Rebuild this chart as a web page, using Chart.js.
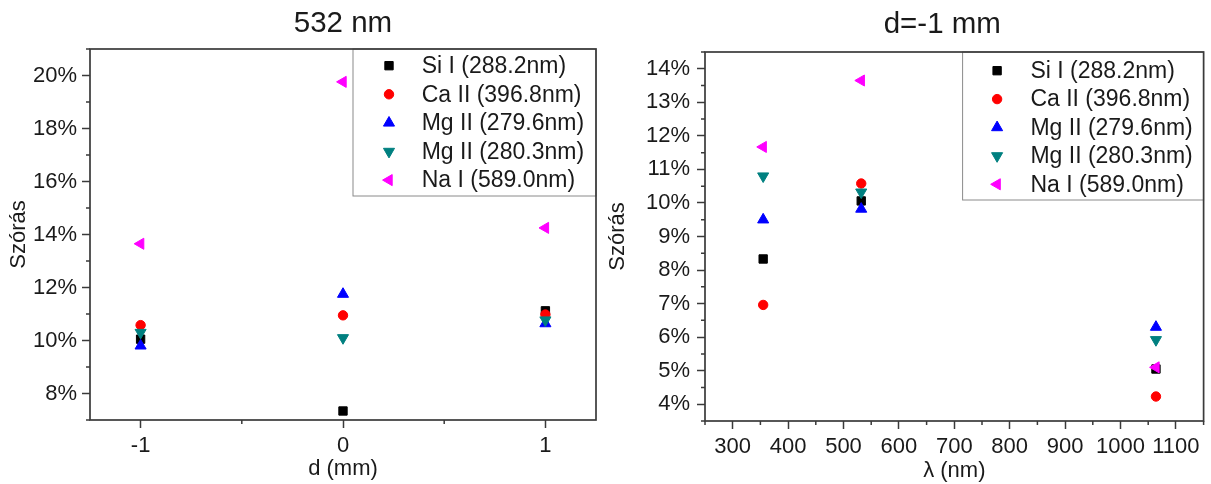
<!DOCTYPE html>
<html>
<head>
<meta charset="utf-8">
<title>Szórás</title>
<script src="https://cdn.jsdelivr.net/npm/chart.js@4/dist/chart.umd.min.js"></script>
<style>
    html, body { margin: 0; padding: 0; background: #fff; }
    body { width: 1211px; height: 484px; position: relative; overflow: hidden; }
    .panel { position: absolute; top: 0; height: 484px; }
    #leftPanel { left: 0; width: 605px; }
    #rightPanel { left: 605px; width: 606px; }
</style>
</head>
<body>
<div class="panel" id="leftPanel"><canvas id="distanceChart"></canvas></div>
<div class="panel" id="rightPanel"><canvas id="wavelengthChart"></canvas></div>
<script>
// Data: 532 nm, relative std. dev. (%) vs. d (mm)
const dValues = [-1, 0, 1];
const dTicks  = [-1, -0.5, 0, 0.5, 1];
const siI_d   = [10.05, 7.34, 11.12];
const caII_d  = [10.58, 10.95, 10.98];
const mg279_d = [9.80, 11.75, 10.64];
const mg280_d = [10.30, 10.10, 10.77];
const naI_d   = [13.65, 19.76, 14.25];

// Data: d = -1 mm, relative std. dev. (%) vs. wavelength (nm)
const lambdaValues = [355, 532, 1064];
const siI_l   = [8.33, 10.06, 5.05];
const caII_l  = [6.96, 10.58, 4.23];
const mg279_l = [9.50, 9.82, 6.30];
const mg280_l = [10.80, 10.32, 5.92];
const naI_l   = [11.67, 13.65, 5.10];

const seriesLabels = ['Si I (288.2nm)', 'Ca II (396.8nm)', 'Mg II (279.6nm)', 'Mg II (280.3nm)', 'Na I (589.0nm)'];

// Styles
const FONT = '"Liberation Sans", Arial, sans-serif';
const TEXT_COLOR = '#1a1a1a';
const AXIS_COLOR = '#3a3a3a';
const markers = [
    { color: '#000000', style: 'rect', radius: 5.9, rotation: 0 },
    { color: '#ff0000', style: 'circle', radius: 4.7, rotation: 0 },
    { color: '#0000ff', style: 'triangle', radius: 6.4, rotation: 0 },
    { color: '#008080', style: 'triangle', radius: 6.4, rotation: 180 },
    { color: '#ff00ff', style: 'triangle', radius: 6.4, rotation: -90 }
];

// Build the scatter datasets from x values and the y series
function buildDatasets(xs, seriesList) {
    return seriesList.map((ys, i) => ({
        label: seriesLabels[i],
        data: xs.map((x, j) => ({ x: x, y: ys[j] })),
        showLine: false,
        pointStyle: markers[i].style,
        pointRadius: markers[i].radius,
        pointRotation: markers[i].rotation,
        pointBackgroundColor: markers[i].color,
        pointBorderColor: markers[i].color,
        pointBorderWidth: 1,
        backgroundColor: markers[i].color,
        borderColor: markers[i].color,
        order: seriesList.length - i // later series on top
    }));
}

// Title, frame, minor ticks and the inset legend
const framePlugin = {
    id: 'frameAndLegend',
    afterDraw(chart, args, opts) {
        const { ctx, chartArea } = chart;
        ctx.save();

        // title, centred (roughly) over the plot
        ctx.font = '29.5px ' + FONT;
        ctx.fillStyle = TEXT_COLOR;
        ctx.textAlign = 'center';
        ctx.textBaseline = 'middle';
        ctx.fillText(opts.title, (chartArea.left + chartArea.right) / 2 + opts.titleShift, opts.titleY);

        // legend box
        const boxLeft = chartArea.right - opts.width;
        const boxTop = chartArea.top;
        ctx.fillStyle = '#fff';
        ctx.fillRect(boxLeft, boxTop, opts.width, opts.height);
        ctx.strokeStyle = '#8a8a8a';
        ctx.lineWidth = 1;
        ctx.strokeRect(boxLeft, boxTop, opts.width, opts.height);
        ctx.font = '23px ' + FONT;
        ctx.textAlign = 'left';
        chart.data.datasets.forEach((ds, i) => {
            const y = boxTop + opts.firstRow + i * opts.rowGap;
            ctx.fillStyle = ds.pointBackgroundColor;
            ctx.strokeStyle = ds.pointBorderColor;
            ctx.lineWidth = 1;
            Chart.helpers.drawPoint(ctx, {
                pointStyle: ds.pointStyle,
                radius: ds.pointRadius,
                rotation: ds.pointRotation,
                borderWidth: 1
            }, boxLeft + opts.markerX, y);
            ctx.fillStyle = TEXT_COLOR;
            ctx.fillText(ds.label, boxLeft + opts.textX, y + 1);
        });

        // minor ticks (the unlabelled ones)
        ctx.strokeStyle = AXIS_COLOR;
        ctx.lineWidth = 1.5;
        const xs = chart.scales.x, ys = chart.scales.y;
        ctx.beginPath();
        xs.ticks.forEach(t => {
            if (t.label !== '') return;
            const px = xs.getPixelForValue(t.value);
            ctx.moveTo(px, chartArea.bottom);
            ctx.lineTo(px, chartArea.bottom + 4);
        });
        ys.ticks.forEach(t => {
            if (t.label !== '') return;
            const py = ys.getPixelForValue(t.value);
            ctx.moveTo(chartArea.left, py);
            ctx.lineTo(chartArea.left - 4, py);
        });
        ctx.stroke();

        // plot frame
        ctx.lineWidth = 1.7;
        ctx.strokeRect(chartArea.left, chartArea.top, chartArea.right - chartArea.left, chartArea.bottom - chartArea.top);
        ctx.restore();
    }
};

function tickColor(c) {
    return c.tick && c.tick.label !== '' ? AXIS_COLOR : 'rgba(0,0,0,0)';
}

function createChart(canvasId, cfg) {
    const ctx = document.getElementById(canvasId).getContext('2d');
    return new Chart(ctx, {
        type: 'scatter',
        data: { datasets: cfg.datasets },
        plugins: [framePlugin],
        options: {
            responsive: true,
            maintainAspectRatio: false,
            animation: false,
            layout: { padding: { left: 0, right: cfg.padRight, top: cfg.padTop, bottom: 0 } },
            plugins: {
                legend: { display: false },
                tooltip: { enabled: false },
                title: { display: false },
                frameAndLegend: cfg.legend
            },
            scales: {
                x: {
                    type: 'linear',
                    min: cfg.xMin,
                    max: cfg.xMax,
                    afterBuildTicks: scale => {
                        if (cfg.xTicks) scale.ticks = cfg.xTicks.map(v => ({ value: v }));
                    },
                    afterFit: scale => { scale.height = cfg.xAxisHeight; },
                    border: { display: false },
                    grid: { drawOnChartArea: false, drawTicks: true, tickLength: 8, tickWidth: 1.5, tickColor: tickColor },
                    ticks: {
                        stepSize: cfg.xStep,
                        autoSkip: false,
                        maxRotation: 0,
                        padding: 5,
                        color: TEXT_COLOR,
                        font: { family: FONT, size: 22 },
                        callback: cfg.xLabel
                    },
                    title: {
                        display: true,
                        text: cfg.xTitle,
                        color: TEXT_COLOR,
                        font: { family: FONT, size: 22, lineHeight: 1 },
                        padding: { top: 0, bottom: cfg.xTitlePad }
                    }
                },
                y: {
                    type: 'linear',
                    min: cfg.yMin,
                    max: cfg.yMax,
                    afterFit: scale => { scale.width = cfg.yAxisWidth; },
                    border: { display: false },
                    grid: { drawOnChartArea: false, drawTicks: true, tickLength: 8, tickWidth: 1.5, tickColor: tickColor },
                    ticks: {
                        stepSize: cfg.yStep,
                        autoSkip: false,
                        padding: cfg.yTickPad,
                        color: TEXT_COLOR,
                        font: { family: FONT, size: 22 },
                        callback: cfg.yLabel
                    },
                    title: {
                        display: true,
                        text: 'Szórás',
                        color: TEXT_COLOR,
                        font: { family: FONT, size: 22, lineHeight: 1 },
                        padding: { top: cfg.yTitlePad, bottom: 0 }
                    }
                }
            }
        }
    });
}

document.addEventListener('DOMContentLoaded', () => {
    // Left: 532 nm
    createChart('distanceChart', {
        padTop: 49,
        datasets: buildDatasets(dValues, [siI_d, caII_d, mg279_d, mg280_d, naI_d]),
        padRight: 9,
        xMin: -1.25, xMax: 1.25, xTicks: dTicks,
        xLabel: v => Number.isInteger(v) ? String(v) : '',
        xTitle: 'd (mm)', xTitlePad: 4, xAxisHeight: 64,
        yMin: 7, yMax: 21, yStep: 1,
        yLabel: v => (v % 2 === 0 && v >= 8 && v <= 20) ? v + '%' : '',
        yAxisWidth: 90, yTickPad: 5, yTitlePad: 8,
        legend: { title: '532 nm', titleShift: 0, titleY: 24,
                  width: 243, height: 147, firstRow: 16.7, rowGap: 28.6, markerX: 36, textX: 68.7 }
    });

    // Right: d = -1 mm
    createChart('wavelengthChart', {
        padTop: 52,
        datasets: buildDatasets(lambdaValues, [siI_l, caII_l, mg279_l, mg280_l, naI_l]),
        padRight: 3,
        xMin: 250, xMax: 1150, xStep: 50,
        xLabel: v => (v % 100 === 0) ? String(v) : '',
        xTitle: 'λ (nm)', xTitlePad: 2, xAxisHeight: 63,
        yMin: 3.5, yMax: 14.5, yStep: 0.5,
        yLabel: v => Number.isInteger(v) ? v + '%' : '',
        yAxisWidth: 100, yTickPad: 7, yTitlePad: 1.6,
        legend: { title: 'd=-1 mm', titleShift: -12, titleY: 25,
                  width: 241, height: 148, firstRow: 18.7, rowGap: 28.4, markerX: 34.5, textX: 67.8 }
    });
});
</script>
</body>
</html>
